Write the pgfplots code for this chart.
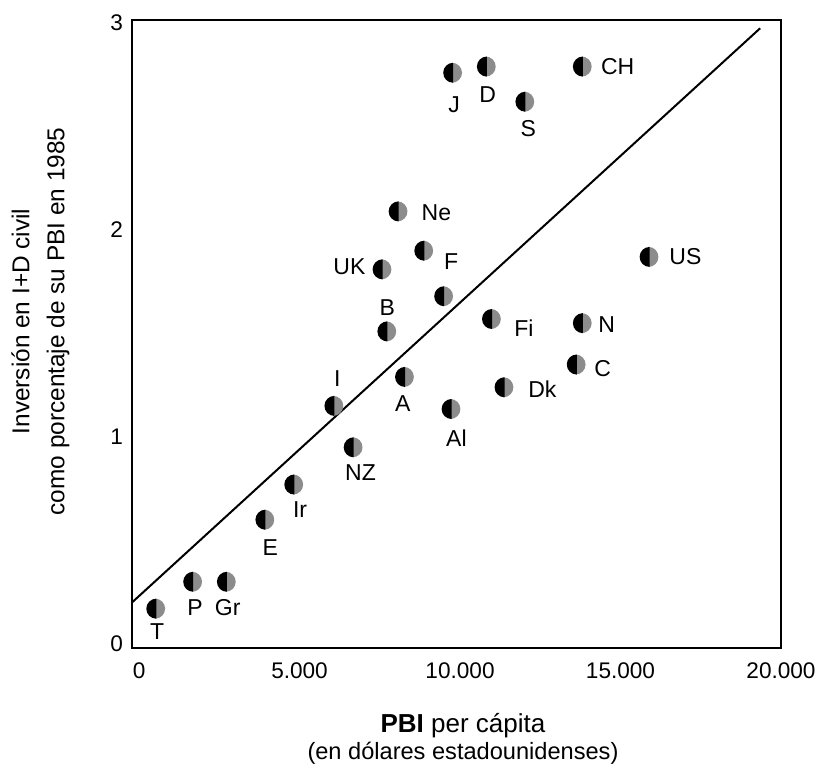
\documentclass[border=0pt]{standalone}
\usepackage{pgfplots}
\pgfplotsset{compat=1.18}
\usepackage{pgfplotstable}
\usepackage{fontspec}
\setmainfont{Liberation Sans}

% half black / half grey dot used for every country
\pgfdeclareplotmark{halfmoon}{%
  \pgfsetfillcolor{black!45}%
  \pgfpathmoveto{\pgfqpoint{0pt}{\pgfplotmarksize}}%
  \pgfpatharc{90}{-90}{\pgfplotmarksize}%
  \pgfpathclose
  \pgfusepath{fill}%
  \pgfsetfillcolor{black}%
  \pgfpathmoveto{\pgfqpoint{0.6pt}{\pgfplotmarksize}}%
  \pgfpatharc{90}{270}{\pgfplotmarksize}%
  \pgfpathclose
  \pgfusepath{fill}%
}

% x = PBI per capita, y = I+D civil (% PBI), dx/dy = label offset in pt
\pgfplotstableread{
x      y      lab  dx    dy
500    0.17   T    1     -11.5
1650   0.30   P    1.5   -13
2700   0.30   Gr   1     -13
3900   0.60   E    3     -14
4800   0.77   Ir   3.5   -12.5
6050   1.15   I    2     13.5
6650   0.95   NZ   4     -12.5
8250   1.29   A    -0.5  -13.5
9700   1.135  Al   3     -14.5
11350  1.24   Dk   19.5  -1
8050   2.09   Ne   19.5  -0.5
8850   1.90   F    14    -5.5
7550   1.81   UK   -16   1.5
7700   1.51   B    0.5   12
10960  1.57   Fi   16.5  -4.5
9750   2.76   J    1     -16
10800  2.79   D    1     -14
12000  2.62   S    2     -13.5
13790  2.79   CH   18    0
15870  1.87   US   18.5  0
13790  1.55   N    12.5  -0.5
13600  1.35   C    13.5  -2
}\paises

\begin{document}
\begin{tikzpicture}
\useasboundingbox (-66pt,-59pt) rectangle (344.5pt,324pt);
\begin{axis}[
    scale only axis,
    width=324.5pt, height=314pt,
    xmin=-220, xmax=20000,
    ymin=-0.02, ymax=3.015,
    axis line style={line width=0.9pt},
    major tick length=0pt,
    scaled x ticks=false,
    xtick={0,5000,10000,15000,20000},
    xticklabels={0,5.000,10.000,15.000,20.000},
    ytick={0,1,2,3},
    yticklabels={0,1,2,3},
    tick label style={font=\fontsize{11.3}{13}\selectfont},
    xticklabel style={yshift=-4pt},
    yticklabel style={xshift=-1pt},
    xlabel={\textbf{PBI} per cápita\\{\fontsize{11.8}{13.5}\selectfont(en dólares estadounidenses)}},
    xlabel style={align=center, font=\fontsize{13}{13.5}\selectfont,
        at={(axis description cs:0.51,0)}, anchor=north, yshift=-32.5pt, inner sep=0pt},
    ylabel={Inversión en I+D civil\\como porcentaje de su PBI en 1985},
    ylabel style={align=center, font=\fontsize{12.2}{17.5}\selectfont, at={(axis description cs:-0.141,0.52)}, anchor=center},
    clip=false,
]
\addplot[black, line width=1pt] coordinates {(-220,0.20) (19350,2.975)};
\addplot[only marks, mark=halfmoon, mark size=5pt,
    point meta=explicit symbolic,
    visualization depends on={\thisrow{dx} \as \dx},
    visualization depends on={\thisrow{dy} \as \dy},
    nodes near coords,
    nodes near coords style={anchor=center, xshift=\dx pt, yshift=\dy pt, font=\fontsize{11.5}{13}\selectfont, inner sep=0pt},
] table[x=x, y=y, meta=lab] {\paises};
\addplot[only marks, mark=halfmoon, mark size=5pt] coordinates {(9470,1.68)};
\end{axis}
\end{tikzpicture}
\end{document}
